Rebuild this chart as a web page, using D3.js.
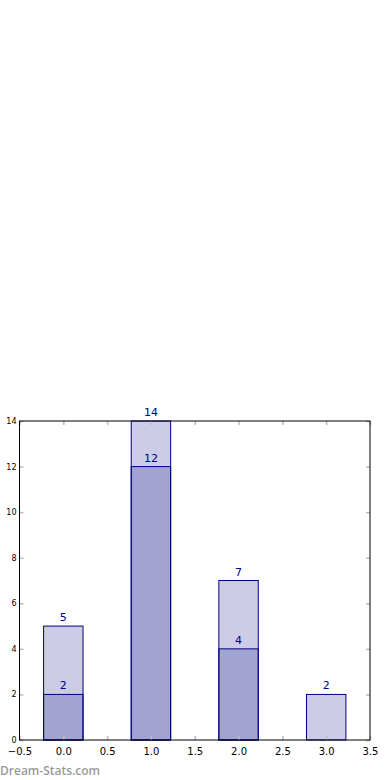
<!DOCTYPE html>
<html><head><meta charset="utf-8">
<script src="https://cdn.jsdelivr.net/npm/d3@7"></script>
<style>body{margin:0;background:#fff;}svg{display:block;}</style>
</head><body>
<script>
const categories = [0, 1, 2, 3];
const backValues = [5, 14, 7, 2];
const frontValues = [2, 12, 4, 0];
const xTicks = [-0.5, 0.0, 0.5, 1.0, 1.5, 2.0, 2.5, 3.0, 3.5];
const yTicks = [0, 2, 4, 6, 8, 10, 12, 14];

const W = 390, H = 780;
const m = {left: 19.5, right: 370, top: 421, bottom: 740};
const svg = d3.select("body").append("svg").attr("width", W).attr("height", H);
const x = d3.scaleLinear().domain([-0.5, 3.5]).range([m.left, m.right]);
const y = d3.scaleLinear().domain([0, 14]).range([m.bottom, m.top]);
const bw = 0.45;

function drawBars(vals) {
  const data = categories.map((c, i) => ({c, v: vals[i]})).filter(d => d.v > 0);
  svg.append("g").selectAll("rect").data(data).join("rect")
    .attr("x", d => x(d.c - bw/2))
    .attr("width", d => x(d.c + bw/2) - x(d.c - bw/2))
    .attr("y", d => y(d.v))
    .attr("height", d => y(0) - y(d.v))
    .attr("fill", "#000080").attr("fill-opacity", 0.2)
    .attr("stroke", "#000080").attr("stroke-width", 1);
  svg.append("g").selectAll("text").data(data).join("text")
    .attr("x", d => x(d.c))
    .attr("y", d => y(d.v) - 5)
    .attr("text-anchor", "middle")
    .attr("font-family", "DejaVu Sans, sans-serif").attr("font-size", 11)
    .attr("fill", "#000080")
    .text(d => d.v);
}
drawBars(backValues);
drawBars(frontValues);

const tickColor = "#bbbbbb";
const gx = svg.append("g").attr("transform", `translate(0,${m.bottom})`)
  .call(d3.axisBottom(x).tickValues(xTicks).tickSize(-4).tickPadding(8).tickFormat(d => d3.format(".1f")(d).replace("-", "\u2212")));
gx.select(".domain").remove();
gx.selectAll("line").attr("stroke", tickColor).attr("stroke-width", 1.5);
gx.selectAll("text").attr("font-family", "DejaVu Sans, sans-serif").attr("font-size", 10).attr("fill", "#000");

const gxt = svg.append("g").attr("transform", `translate(0,${m.top})`)
  .call(d3.axisTop(x).tickValues(xTicks).tickSize(-4).tickFormat(""));
gxt.select(".domain").remove();
gxt.selectAll("line").attr("stroke", tickColor).attr("stroke-width", 1.5);

const gy = svg.append("g").attr("transform", `translate(${m.left},0)`)
  .call(d3.axisLeft(y).tickValues(yTicks).tickSize(-4).tickPadding(3));
gy.select(".domain").remove();
gy.selectAll("line").attr("stroke", tickColor).attr("stroke-width", 1.5);
gy.selectAll("text").attr("font-family", "DejaVu Sans, sans-serif").attr("font-size", 8).attr("fill", "#000");

const gyr = svg.append("g").attr("transform", `translate(${m.right},0)`)
  .call(d3.axisRight(y).tickValues(yTicks).tickSize(-4).tickFormat(""));
gyr.select(".domain").remove();
gyr.selectAll("line").attr("stroke", tickColor).attr("stroke-width", 1.5);

svg.append("rect").attr("x", m.left).attr("y", m.top)
  .attr("width", m.right - m.left).attr("height", m.bottom - m.top)
  .attr("fill", "none").attr("stroke", "#000").attr("stroke-width", 1);

svg.append("text").attr("x", 0).attr("y", 775)
  .attr("font-family", "Open Sans, sans-serif").attr("font-size", 12).attr("font-weight", 600)
  .attr("fill", "#999999").text("Dream-Stats.com");
</script>
</body></html>
